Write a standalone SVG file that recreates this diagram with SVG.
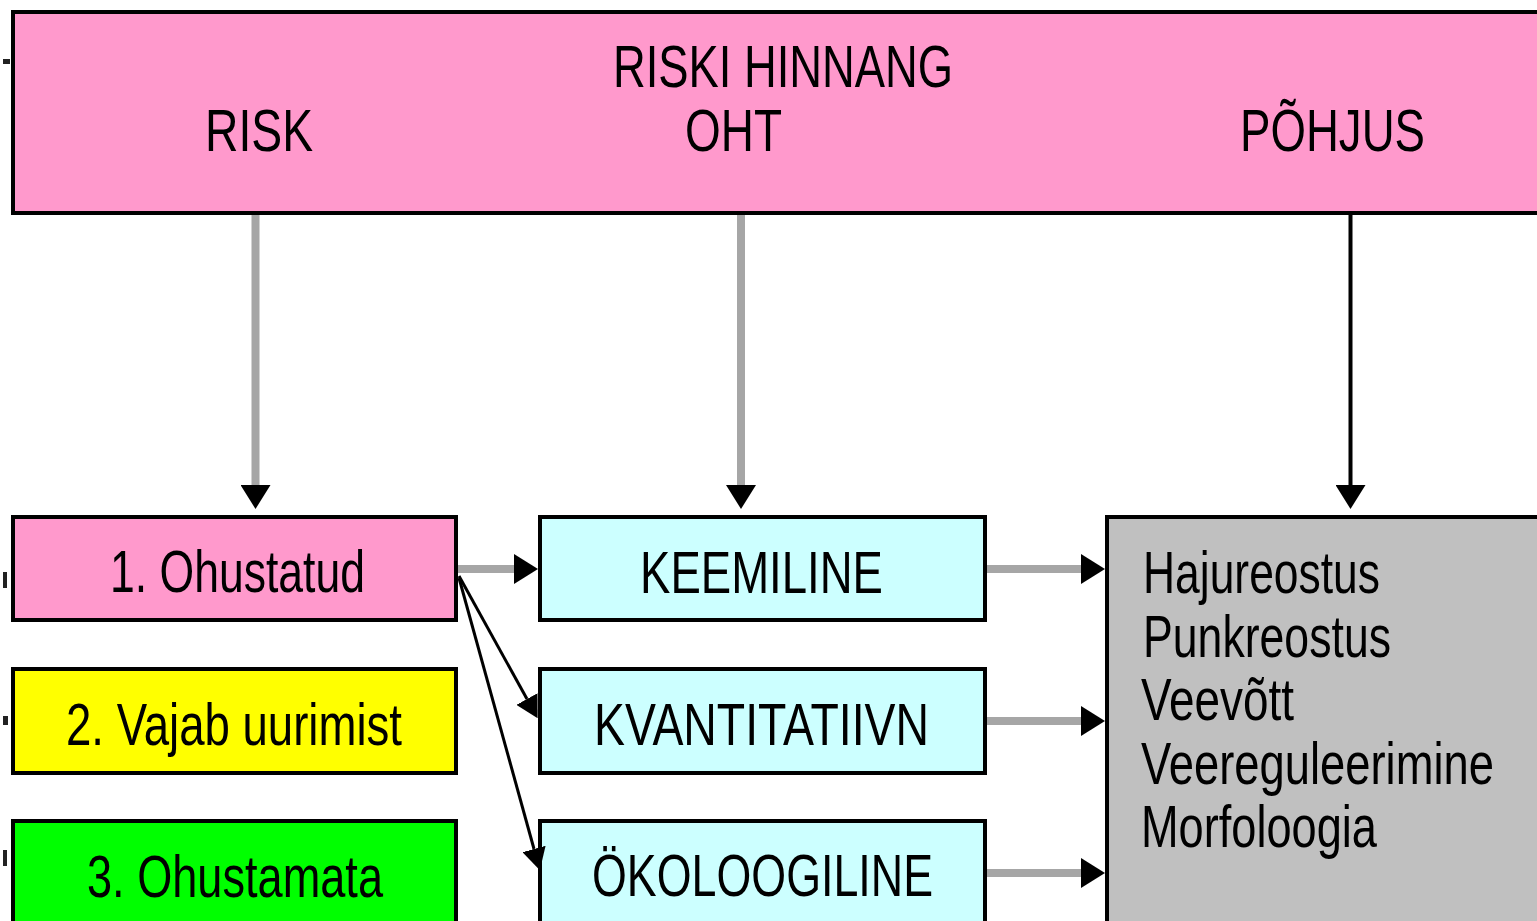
<svg xmlns="http://www.w3.org/2000/svg" width="1537" height="921" viewBox="0 0 1537 921">
<style>
.box{stroke:#000;stroke-width:4}
.pink{fill:#ff99cc}
.yellow{fill:#ffff00}
.green{fill:#00ff00}
.cyan{fill:#ccffff}
.grey{fill:#c0c0c0}
text{font-family:"Liberation Sans",Arial,sans-serif;font-size:60px;fill:#000}
.gl{stroke:#a6a6a6;stroke-width:8;fill:none}
.bl{stroke:#000;stroke-width:4;fill:none}
.dl{stroke:#000;stroke-width:3;fill:none}
</style>
<defs>
<marker id="ah" viewBox="0 0 24 30" refX="0" refY="15" markerWidth="24" markerHeight="30" markerUnits="userSpaceOnUse" orient="auto">
<path d="M0,0 L24,15 L0,30 z" fill="#000"/>
</marker>
<marker id="ahs" viewBox="0 0 22 24" refX="0" refY="12" markerWidth="22" markerHeight="24" markerUnits="userSpaceOnUse" orient="auto">
<path d="M0,0 L22,12 L0,24 z" fill="#000"/>
</marker>
</defs>
<rect width="1537" height="921" fill="#fff"/>
<g id="marks" fill="#222">
<rect x="3" y="59" width="7" height="5"/>
<rect x="3" y="572" width="4" height="16"/>
<rect x="3" y="716" width="5" height="9"/>
<rect x="3" y="850" width="4" height="16"/>
</g>
<g id="header">
<rect class="box pink" x="13" y="12" width="1540" height="201"/>
<text x="613" y="87" textLength="340" lengthAdjust="spacingAndGlyphs">RISKI HINNANG</text>
<text x="685" y="151" textLength="97" lengthAdjust="spacingAndGlyphs">OHT</text>
<text x="205" y="151" textLength="108" lengthAdjust="spacingAndGlyphs">RISK</text>
<text x="1240" y="151" textLength="185" lengthAdjust="spacingAndGlyphs">PÕHJUS</text>
</g>
<g id="n1">
<rect class="box pink" x="13" y="517" width="443" height="103"/>
<text x="110" y="592" textLength="255" lengthAdjust="spacingAndGlyphs">1. Ohustatud</text>
</g>
<g id="n2">
<rect class="box yellow" x="13" y="669" width="443" height="104"/>
<text x="66" y="745" textLength="336" lengthAdjust="spacingAndGlyphs">2. Vajab uurimist</text>
</g>
<g id="n3">
<rect class="box green" x="13" y="821" width="443" height="120"/>
<text x="87" y="897" textLength="296" lengthAdjust="spacingAndGlyphs">3. Ohustamata</text>
</g>
<g id="m1">
<rect class="box cyan" x="540" y="517" width="445" height="103"/>
<text x="640" y="593" textLength="243" lengthAdjust="spacingAndGlyphs">KEEMILINE</text>
</g>
<g id="m2">
<rect class="box cyan" x="540" y="669" width="445" height="104"/>
<text x="594" y="745" textLength="335" lengthAdjust="spacingAndGlyphs">KVANTITATIIVN</text>
</g>
<g id="m3">
<rect class="box cyan" x="540" y="821" width="445" height="120"/>
<text x="592" y="896" textLength="341" lengthAdjust="spacingAndGlyphs">ÖKOLOOGILINE</text>
</g>
<g id="causes">
<rect class="box grey" x="1107" y="517" width="434" height="430"/>
<text x="1143" y="593" textLength="237" lengthAdjust="spacingAndGlyphs">Hajureostus</text>
<text x="1143" y="657" textLength="248" lengthAdjust="spacingAndGlyphs">Punkreostus</text>
<text x="1141" y="720" textLength="153" lengthAdjust="spacingAndGlyphs">Veevõtt</text>
<text x="1141" y="784" textLength="353" lengthAdjust="spacingAndGlyphs">Veereguleerimine</text>
<text x="1141" y="847" textLength="236" lengthAdjust="spacingAndGlyphs">Morfoloogia</text>
</g>
<g id="connectors">
<line class="gl" x1="255.5" y1="215" x2="255.5" y2="485" marker-end="url(#ah)"/>
<line class="gl" x1="741" y1="215" x2="741" y2="485" marker-end="url(#ah)"/>
<line class="bl" x1="1350.5" y1="215" x2="1350.5" y2="485" marker-end="url(#ah)"/>
<line class="gl" x1="458" y1="569" x2="514" y2="569" marker-end="url(#ah)"/>
<line class="gl" x1="987" y1="569" x2="1081" y2="569" marker-end="url(#ah)"/>
<line class="gl" x1="987" y1="721" x2="1081" y2="721" marker-end="url(#ah)"/>
<line class="gl" x1="987" y1="873" x2="1081" y2="873" marker-end="url(#ah)"/>
<line class="dl" x1="459" y1="576" x2="527" y2="699" marker-end="url(#ahs)"/>
<line class="dl" x1="459" y1="578" x2="534" y2="849" marker-end="url(#ahs)"/>
</g>
</svg>
